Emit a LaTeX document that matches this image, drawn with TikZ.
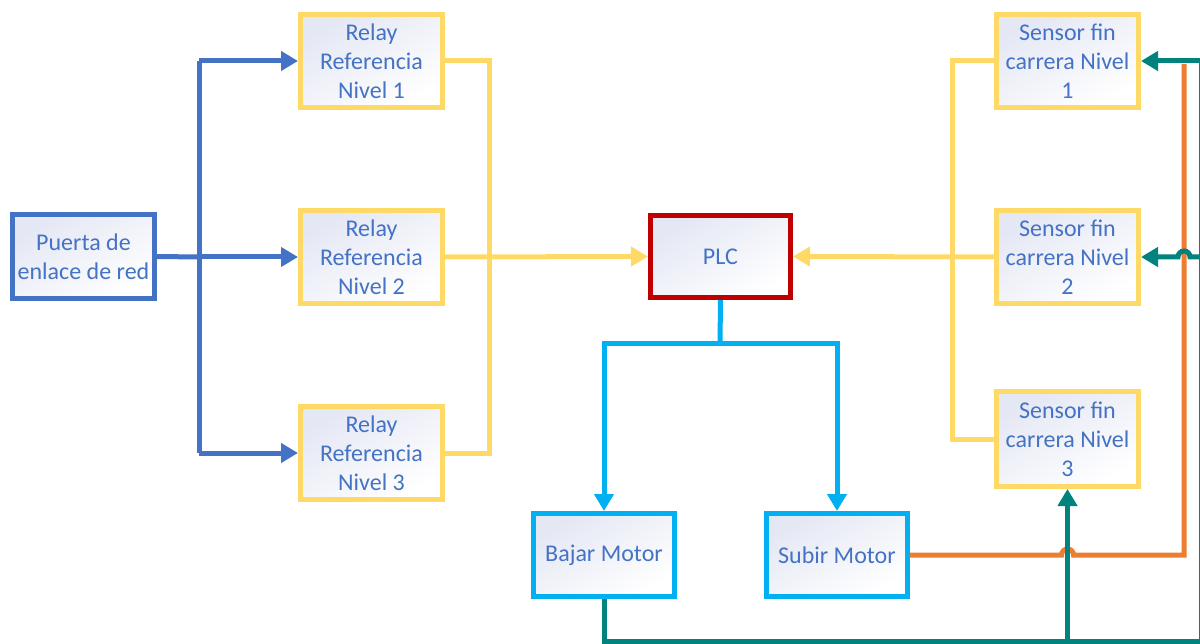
\documentclass[tikz,border=0pt]{standalone}
\usepackage{fontspec}
\setmainfont{Carlito}
\usetikzlibrary{arrows.meta}
\definecolor{txtblue}{HTML}{4472C4}
\definecolor{lnblue}{HTML}{4472C4}
\definecolor{lnyellow}{HTML}{FFD966}
\definecolor{lnred}{HTML}{C00000}
\definecolor{lncyan}{HTML}{00B0F0}
\definecolor{lnorange}{HTML}{ED7D31}
\definecolor{lnteal}{HTML}{00827F}
\definecolor{boxtint}{HTML}{E4E7F4}
\begin{document}
\begin{tikzpicture}[x=1pt,y=-1pt,
  box/.style={draw, line width=5pt, align=center, text=txtblue, inner sep=0pt,
    font=\fontsize{24}{29}\selectfont,
    top color=boxtint, bottom color=white, shading angle=30},
  relaybox/.style={box, draw=lnyellow, minimum width=142pt, minimum height=93pt},
  link/.style={line width=5pt},
  tip/.style={-{Triangle[length=17pt,width=19pt]}},
]
\useasboundingbox (0,0) rectangle (1200,644);

% blocks
\node[box, draw=lnblue, minimum width=142pt, minimum height=84pt] (gw) at (83.5,256.5) {Puerta de\\enlace de red};
\node[relaybox] (r1) at (371.5,61) {Relay\\Referencia\\Nivel 1};
\node[relaybox] (r2) at (371.5,257) {Relay\\Referencia\\Nivel 2};
\node[relaybox] (r3) at (371.5,453) {Relay\\Referencia\\Nivel 3};
\node[box, draw=lnred, minimum width=140pt, minimum height=82pt] (plc) at (720.5,256.5) {PLC};
\node[relaybox] (s1) at (1067.5,61) {Sensor fin\\carrera Nivel\\1};
\node[relaybox] (s2) at (1067.5,257) {Sensor fin\\carrera Nivel\\2};
\node[relaybox, minimum height=95pt] (s3) at (1067.5,439) {Sensor fin\\carrera Nivel\\3};
\node[box, draw=lncyan, minimum width=141pt, minimum height=83pt] (bm) at (604,555) {Bajar Motor};
\node[box, draw=lncyan, minimum width=141pt, minimum height=83pt] (sm) at (837,555) {Subir Motor};

% junction points
\coordinate (bj) at (199,257);
\coordinate (yl) at (489,257);
\coordinate (yr) at (952,257);
\coordinate (cj) at (720,344);
\coordinate (oc) at (1184,555);
\coordinate (ot) at (1184,64);
\coordinate (tb) at (1067.5,641);
\coordinate (tc) at (1201,641);
\coordinate (tt) at (1201,61);
\coordinate (tm) at (1201,257);

% gateway to relays
\draw[link, lnblue] (gw.east) -- (bj);
\draw[link, lnblue] (bj |- r1) -- (bj |- r3);
\draw[link, lnblue, tip] (bj |- r1) -- (r1.west);
\draw[link, lnblue, tip] (bj) -- (r2.west);
\draw[link, lnblue, tip] (bj |- r3) -- (r3.west);

% relays to PLC
\draw[link, lnyellow] (r1.east) -| (yl) |- (r3.east);
\draw[link, lnyellow, tip] (r2.east) -- (plc.west);

% sensors to PLC
\draw[link, lnyellow] (s1.west) -| (yr) |- (s3.west);
\draw[link, lnyellow, tip] (s2.west) -- (plc.east);

% PLC to motors
\draw[link, lncyan] (plc.south) -- (cj);
\draw[link, lncyan, tip] (cj) -| (bm.north);
\draw[link, lncyan, tip] (cj) -| (sm.north);

% Subir Motor feedback, hopping over the teal line
\draw[link, lnorange] (sm.east) -- (1061.5,555) arc[start angle=180, end angle=360, radius=6]
  -- (oc) -- (ot);

% Bajar Motor feedback to the three sensors
\draw[link, lnteal] (bm.south) |- (tc) -- (tt);
\draw[link, lnteal, tip] (tt) -- (s1.east);
\draw[link, lnteal, tip] (tm) -- (1190,257) arc[start angle=0, end angle=-180, radius=6] -- (s2.east);
\draw[link, lnteal, tip] (tb) -- (s3.south);
\end{tikzpicture}
\end{document}
